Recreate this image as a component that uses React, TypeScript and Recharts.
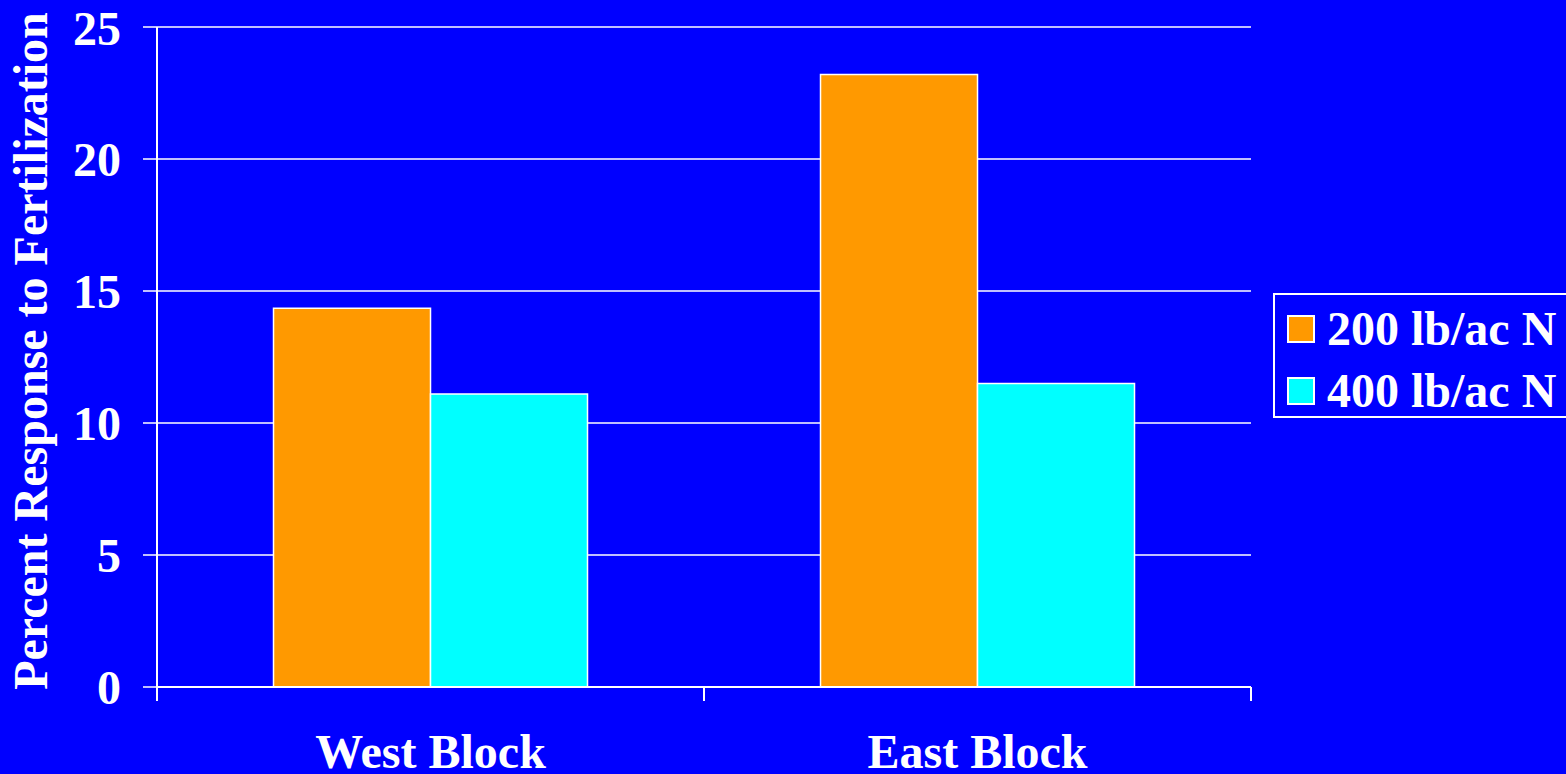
import React from 'react';
import { Bar, BarChart, CartesianGrid, XAxis, YAxis } from 'recharts';

// blocks on the x axis
const blocks = ['West Block', 'East Block'];
// percent response, per nitrogen rate
const rate200 = [14.35, 23.2];
const rate400 = [11.1, 11.5];
const yTicks = [0, 5, 10, 15, 20, 25];

const seriesNames = ['200 lb/ac N', '400 lb/ac N'];
const seriesColors = ['#FF9900', '#00FFFF'];

const data = blocks.map((block, i) => ({
  block,
  r200: rate200[i],
  r400: rate400[i],
}));

const BG = '#0000FF';
const FONT = '"Liberation Serif", "Times New Roman", serif';
const FONT_SIZE = 48;

// category label plus the boundary tick marks on either side of each band
const BlockTick = (props: any) => {
  const { x, y, payload, index } = props;
  const half = payload?.offset ?? 273.5;
  const last = index === blocks.length - 1;
  return (
    <g>
      <line x1={x - half} x2={x - half} y1={y} y2={y + 14} stroke="#fff" strokeWidth={2} />
      {last && <line x1={x + half} x2={x + half} y1={y} y2={y + 14} stroke="#fff" strokeWidth={2} />}
      <text x={x} y={y + 81} textAnchor="middle" fill="#fff" fontFamily={FONT} fontWeight="bold" fontSize={FONT_SIZE}>
        {payload.value}
      </text>
    </g>
  );
};

const AxisTitle = () => (
  <text
    x={30}
    y={351}
    transform="rotate(-90, 30, 351)"
    textAnchor="middle"
    dominantBaseline="central"
    fill="#fff"
    fontFamily={FONT}
    fontWeight="bold"
    fontSize={FONT_SIZE}
  >
    Percent Response to Fertilization
  </text>
);

const RateLegend = () => (
  <div
    style={{
      position: 'absolute',
      left: 1273,
      top: 293,
      width: 310,
      height: 125,
      border: '2px solid #fff',
      boxSizing: 'border-box',
      fontFamily: FONT,
      fontWeight: 'bold',
      fontSize: FONT_SIZE,
      color: '#fff',
    }}
  >
    {seriesNames.map((name, i) => (
      <div key={name} style={{ position: 'absolute', left: 12, top: 9 + i * 62, height: 50, display: 'flex', alignItems: 'center', whiteSpace: 'nowrap' }}>
        <span style={{ display: 'inline-block', width: 24, height: 24, background: seriesColors[i], border: '2px solid #fff', marginRight: 12 }} />
        <span style={{ lineHeight: '50px' }}>{name}</span>
      </div>
    ))}
  </div>
);

export default function App() {
  return (
    <div style={{ position: 'fixed', left: 0, top: 0, width: 1566, height: 774, background: BG, overflow: 'hidden' }}>
      <BarChart
        width={1566}
        height={774}
        data={data}
        margin={{ top: 27, right: 315, bottom: 0, left: 0 }}
        barCategoryGap="21.3%"
        barGap={0}
      >
        <CartesianGrid horizontal vertical={false} stroke="#fff" strokeWidth={1.5} />
        <XAxis
          dataKey="block"
          height={87}
          axisLine={{ stroke: '#fff', strokeWidth: 2 }}
          tickLine={false}
          tickSize={0}
          tickMargin={0}
          tick={<BlockTick />}
          interval={0}
        />
        <YAxis
          width={157}
          domain={[0, 25]}
          ticks={yTicks}
          axisLine={{ stroke: '#fff', strokeWidth: 2 }}
          tickLine={{ stroke: '#fff', strokeWidth: 1.5 }}
          tickSize={14}
          tickMargin={22}
          tick={{ fill: '#fff', fontFamily: FONT, fontWeight: 'bold', fontSize: FONT_SIZE }}
          label={{ content: <AxisTitle /> }}
        />
        <Bar dataKey="r200" name={seriesNames[0]} fill={seriesColors[0]} stroke="#fff" strokeWidth={1.5} isAnimationActive={false} />
        <Bar dataKey="r400" name={seriesNames[1]} fill={seriesColors[1]} stroke="#fff" strokeWidth={1.5} isAnimationActive={false} />
      </BarChart>
      <RateLegend />
    </div>
  );
}
